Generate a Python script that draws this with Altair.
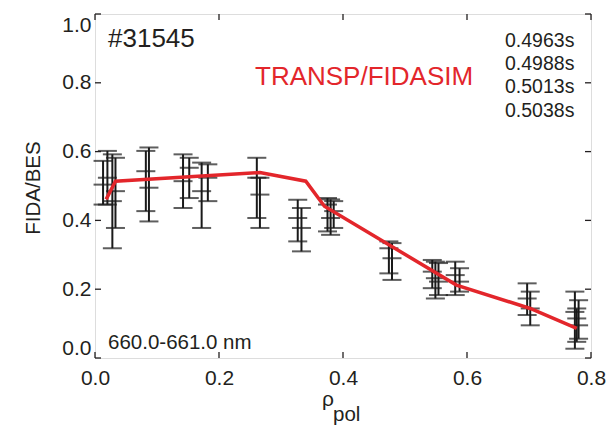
import altair as alt
import pandas as pd

# ---- data ----
bar_x  = [0.013, 0.020, 0.028, 0.033, 0.082, 0.087, 0.142, 0.152, 0.172, 0.182,
          0.261, 0.266, 0.327, 0.333, 0.375, 0.380, 0.385, 0.474, 0.479,
          0.544, 0.549, 0.554, 0.581, 0.588, 0.697, 0.702, 0.774, 0.777, 0.780]
bar_c  = [0.504, 0.524, 0.456, 0.485, 0.543, 0.495, 0.514, 0.553, 0.485, 0.524,
          0.524, 0.475, 0.407, 0.378, 0.446, 0.407, 0.427, 0.319, 0.290,
          0.251, 0.232, 0.222, 0.241, 0.222, 0.173, 0.144, 0.134, 0.115, 0.095]
bar_lo = [0.446, 0.446, 0.319, 0.378, 0.427, 0.397, 0.436, 0.465, 0.378, 0.456,
          0.407, 0.378, 0.339, 0.310, 0.368, 0.358, 0.378, 0.246, 0.227,
          0.203, 0.173, 0.183, 0.183, 0.193, 0.125, 0.095, 0.027, 0.047, 0.056]
bar_hi = [0.573, 0.602, 0.592, 0.582, 0.602, 0.612, 0.592, 0.582, 0.568, 0.563,
          0.582, 0.524, 0.460, 0.436, 0.465, 0.461, 0.456, 0.339, 0.334,
          0.285, 0.280, 0.276, 0.280, 0.261, 0.217, 0.193, 0.193, 0.144, 0.168]

sim_x = [0.018, 0.033, 0.266, 0.340, 0.370, 0.583, 0.702, 0.777]
sim_y = [0.461, 0.514, 0.539, 0.514, 0.441, 0.212, 0.144, 0.086]

x_ticks = [0.0, 0.2, 0.4, 0.6, 0.8]
y_ticks = [0.0, 0.2, 0.4, 0.6, 0.8, 1.0]
times = ["0.4963s", "0.4988s", "0.5013s", "0.5038s"]

W, H = 496, 344
FONT = "Liberation Sans"
INK = "#231f20"
BAR = "#1a1a1a"
RED = "#e3262b"

bars = pd.DataFrame({"x": bar_x, "c": bar_c, "lo": bar_lo, "hi": bar_hi})
sim = pd.DataFrame({"x": sim_x, "y": sim_y})
xt = pd.DataFrame({"v": x_ticks})
yt = pd.DataFrame({"v": y_ticks})

xscale = alt.Scale(domain=[0, 0.8], nice=False, zero=False)
yscale = alt.Scale(domain=[0, 1.0], nice=False, zero=False)

xaxis = alt.Axis(values=x_ticks, format=".1f", title="", domain=False, ticks=False,
                 tickSize=0, grid=False, labelFontSize=21, labelFont=FONT,
                 labelColor=INK, labelPadding=9, labelFlush=False)
yaxis = alt.Axis(values=y_ticks, format=".1f", title="", domain=False,
                 ticks=False, tickSize=0, grid=False, labelFontSize=21,
                 labelFont=FONT, labelColor=INK, labelPadding=4, labelFlush=True)

base = alt.Chart(bars)
rules = base.mark_rule(color=BAR, strokeWidth=2).encode(
    x=alt.X("x:Q", scale=xscale, axis=xaxis),
    y=alt.Y("lo:Q", scale=yscale, axis=yaxis),
    y2="hi:Q",
)
cap_lo = base.mark_tick(orient="horizontal", size=19, thickness=2,
                        color=BAR).encode(x="x:Q", y="lo:Q")
cap_hi = base.mark_tick(orient="horizontal", size=19, thickness=2,
                        color=BAR).encode(x="x:Q", y="hi:Q")
cap_c = base.mark_tick(orient="horizontal", size=19, thickness=2,
                       color=BAR).encode(x="x:Q", y="c:Q")

line = alt.Chart(sim).mark_line(color=RED, strokeWidth=3.5).encode(
    x="x:Q", y="y:Q")

# inward ticks on all four sides
tb = alt.Chart(xt).mark_rule(color=INK, strokeWidth=1.3).encode(
    x="v:Q", y=alt.value(H), y2=alt.value(H - 6))
tt = alt.Chart(xt).mark_rule(color=INK, strokeWidth=1.3).encode(
    x="v:Q", y=alt.value(0), y2=alt.value(6))
tl = alt.Chart(yt).mark_rule(color=INK, strokeWidth=1.3).encode(
    y="v:Q", x=alt.value(0), x2=alt.value(6))
tr = alt.Chart(yt).mark_rule(color=INK, strokeWidth=1.3).encode(
    y="v:Q", x=alt.value(W), x2=alt.value(W - 6))

one = pd.DataFrame({"a": [0]})


def label(txt, x, y, size, color=INK, align="left", angle=0, baseline="alphabetic"):
    return alt.Chart(one).mark_text(
        text=txt, font=FONT, fontSize=size, color=color, align=align,
        baseline=baseline, angle=angle).encode(x=alt.value(x), y=alt.value(y))


texts = [
    label("FIDA/BES", -61, H / 2 + 2, 20.5, align="center", angle=270,
          baseline="middle"),
    label("#31545", 13, 33, 26),
    label("TRANSP/FIDASIM", 160, 71, 26, color=RED),
    label("660.0-661.0 nm", 13, 335, 20.5),
    label("ρ", 233, 392, 21, align="center"),
    label("pol", 238, 407, 20.5),
]
for i, t in enumerate(times):
    texts.append(label(t, 410, 32.7 + 23.3 * i, 19.5))

chart = alt.layer(rules, cap_lo, cap_hi, cap_c, line, tb, tt, tl, tr, *texts).properties(
    width=W, height=H,
    autosize=alt.AutoSizeParams(type="none"),
    padding={"left": 95, "top": 14, "right": 16, "bottom": 72},
).configure_view(stroke=INK, strokeWidth=1.4).configure(background="white")

chart.save("out.html", embed_options={"renderer": "svg", "actions": False})
